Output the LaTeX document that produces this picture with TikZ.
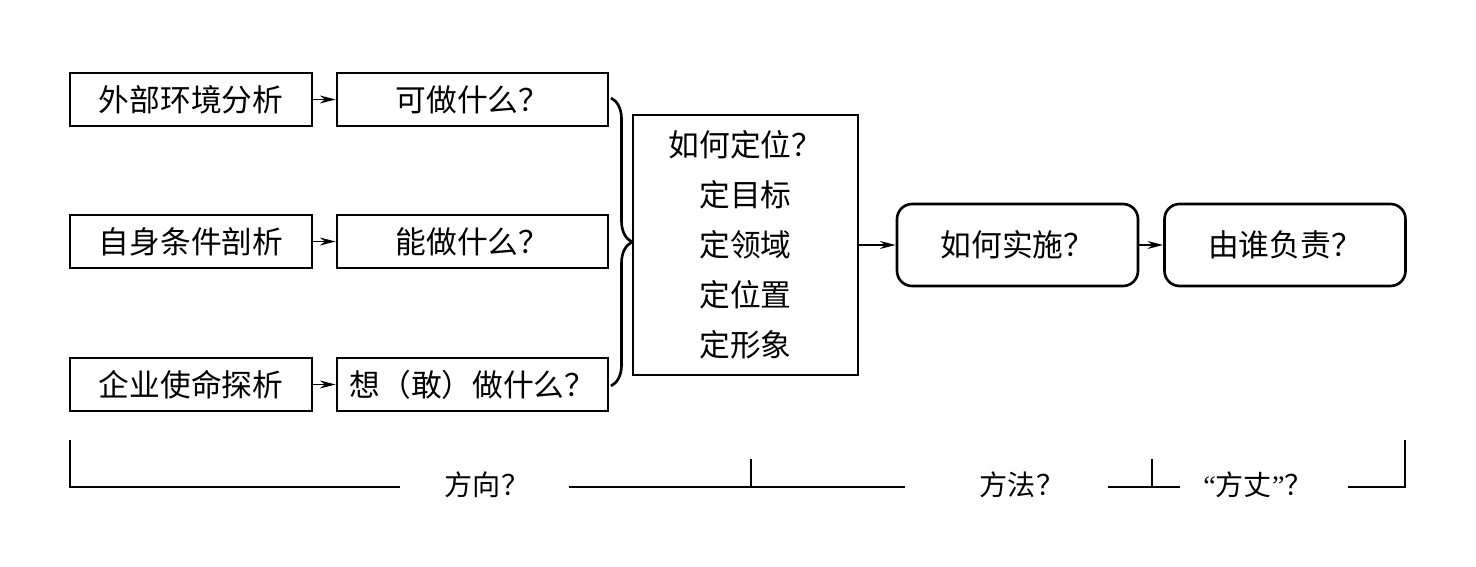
\documentclass[tikz,border=0pt]{standalone}
\usepackage{fontspec}
\setmainfont{Noto Sans CJK SC}
\newfontfamily\latinfont{Liberation Serif}
\usepackage{tikz}
\usetikzlibrary{arrows.meta,positioning,decorations.pathreplacing}

\tikzset{
  box/.style={draw, line width=1.5pt, minimum height=1.06cm, inner sep=0pt, font=\fontsize{17.5}{21}\selectfont},
  rbox/.style={box, rounded corners=0.3cm, minimum width=4.82cm, minimum height=1.64cm},
  arr/.style={-{Stealth[length=9pt,width=4.5pt]}, line width=0.8pt},
  bar/.style={line width=1.5pt},
  lbl/.style={font=\fontsize{16}{19}\selectfont, inner sep=0pt}
}

\begin{document}
\begin{tikzpicture}[x=0.02cm, y=-0.02cm]
          \useasboundingbox (0, 0) rectangle (1476, 567);

          % analysis boxes
          \node[box, minimum width=4.84cm] (ext) at (191, 99.5) {外部环境分析};
          \node[box, minimum width=4.84cm] (self) at (191, 241.5) {自身条件剖析};
          \node[box, minimum width=4.84cm] (mis) at (191, 384.5) {企业使命探析};

          \node[box, minimum width=5.42cm] (can) at (472.5, 99.5) {可做什么？};
          \node[box, minimum width=5.42cm] (able) at (472.5, 241.5) {能做什么？};
          \node[box, minimum width=5.42cm] (want) at (472.5, 384.5) {想（敢）做什么？};

          \draw[arr] (ext) -- (can);
          \draw[arr] (self) -- (able);
          \draw[arr] (mis) -- (want);

          % positioning box
          \node[box, minimum width=4.5cm, minimum height=5.2cm, align=center,
                font=\fontsize{17.5}{28.45}\selectfont] (pos) at (745.5, 245)
                {如何定位？\\定目标\\定领域\\定位置\\定形象};

          \coordinate (bt) at (611, 98);
          \coordinate (bb) at (611, 386);
          \draw[line width=1.5pt, decorate, decoration={brace, amplitude=0.42cm}] (bt) -- (bb);

          \node[rbox] (impl) at (1017.5, 245) {如何实施？};
          \node[rbox] (resp) at (1285, 245) {由谁负责？};

          \draw[arr] (pos.east |- impl) -- (impl);
          \draw[arr] (impl) -- (resp);

          % bottom brackets
          \draw[bar] (70, 440) -- (70, 487) -- (400, 487);
          \draw[bar] (569, 487) -- (905, 487);
          \draw[bar] (751, 459) -- (751, 487);
          \draw[bar] (1108, 487) -- (1180, 487);
          \draw[bar] (1152, 459) -- (1152, 487);
          \draw[bar] (1348, 487) -- (1405, 487) -- (1405, 440);

          \node[lbl] (dir) at (487, 485) {方向？};
          \node[lbl] (meth) at (1022, 485) {方法？};
          \node[lbl] (who) at (1258, 485) {{\latinfont “}方丈{\latinfont ”}？};
        \end{tikzpicture}
\end{document}
